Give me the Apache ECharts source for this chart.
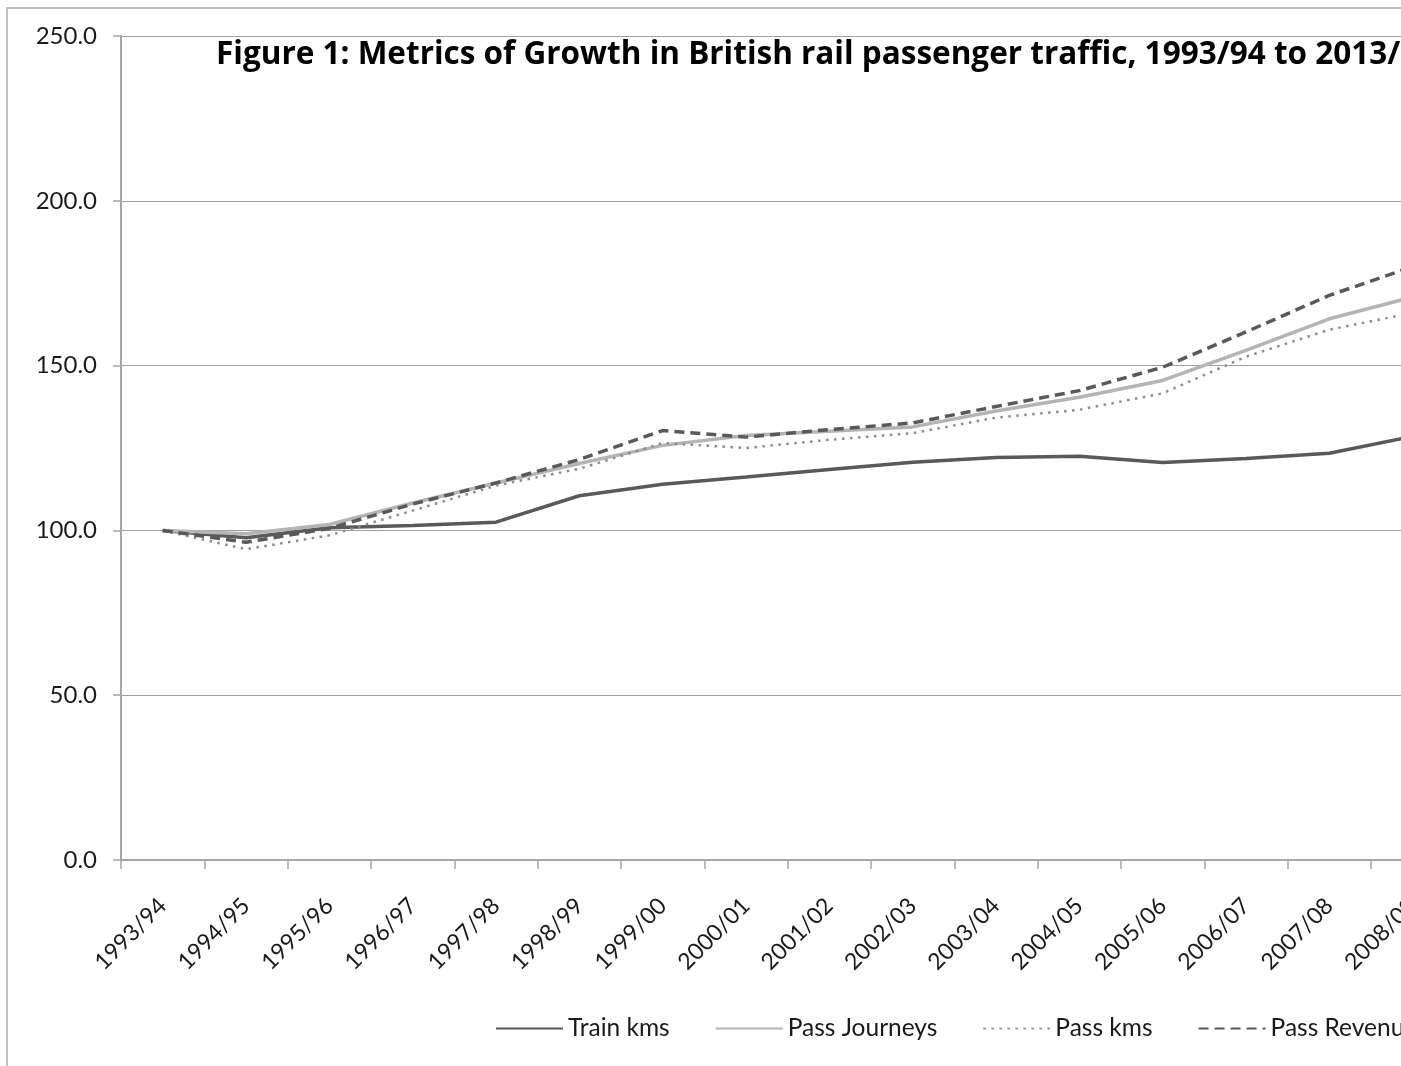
<!DOCTYPE html>
<html>
<head>
<meta charset="utf-8">
<script src="https://cdn.jsdelivr.net/npm/echarts@6/dist/echarts.min.js"></script>
<style>
  html, body { margin: 0; padding: 0; background: #fff; overflow: hidden; }
  #chart { position: absolute; left: 0; top: 0; width: 1401px; height: 1066px; }
  #frame { position: absolute; left: 6px; top: 7px; width: 1500px; height: 1200px;
           border-left: 2px solid #bfbfbf; border-top: 2px solid #bfbfbf; pointer-events: none; box-sizing: border-box; }
</style>
</head>
<body>
<div id="chart"></div>
<div id="frame"></div>
<script>
const titleText = 'Figure 1: Metrics of Growth in British rail passenger traffic, 1993/94 to 2013/14';
const categories = ['1993/94','1994/95','1995/96','1996/97','1997/98','1998/99','1999/00','2000/01',
                    '2001/02','2002/03','2003/04','2004/05','2005/06','2006/07','2007/08','2008/09'];
const trainKms     = [100, 97.8, 100.8, 101.5, 102.5, 110.5, 114.0, 116.2, 118.5, 120.7, 122.1, 122.5, 120.6, 121.8, 123.4, 128.5];
const passJourneys = [100, 99.0, 101.8, 108.3, 114.4, 120.3, 125.8, 128.8, 130.1, 131.4, 136.2, 140.4, 145.5, 154.6, 164.2, 170.8];
const passKms      = [100, 94.3, 98.5, 106.0, 113.6, 118.7, 126.5, 125.0, 127.5, 129.5, 134.2, 136.6, 141.6, 152.7, 160.9, 166.0];
const passRevenue  = [100, 96.4, 100.6, 108.0, 114.4, 121.5, 130.3, 128.3, 130.6, 132.6, 137.6, 142.4, 149.5, 160.2, 171.3, 180.0];
const seriesNames = ['Train kms', 'Pass Journeys', 'Pass kms', 'Pass Revenue'];
const yMin = 0, yMax = 250, yStep = 50;

const FONT = 'Lato';
const chart = echarts.init(document.getElementById('chart'), null, { renderer: 'canvas' });
const bandCount = categories.length;
const bandW = 83.33;

chart.setOption({
  animation: false,
  backgroundColor: '#ffffff',
  title: {
    text: titleText,
    left: 211, top: 34,
    textStyle: { fontFamily: 'Open Sans', fontWeight: 'bold', fontSize: 31.5, color: '#000' }
  },
  legend: {
    data: seriesNames,
    left: 490, top: 1011, width: 1600,
    itemWidth: 67, itemHeight: 14, itemGap: 45,
    itemStyle: { opacity: 0 },
    textStyle: { fontFamily: FONT, fontSize: 24.5, color: '#1a1a1a' }
  },
  grid: {
    left: 121, top: 36, height: 824, width: bandW * bandCount,
    containLabel: false, outerBoundsMode: 'none'
  },
  xAxis: {
    type: 'category',
    data: categories,
    boundaryGap: true,
    axisLine: { show: true, lineStyle: { color: '#a6a6a6', width: 2 } },
    axisTick: { show: true, length: 9, interval: 0, alignWithLabel: false, lineStyle: { color: '#a6a6a6', width: 1.5 } },
    axisLabel: { interval: 0, rotate: 45, margin: 42, fontFamily: FONT, fontSize: 23, color: '#1a1a1a' },
    splitLine: { show: false }
  },
  yAxis: {
    type: 'value',
    min: yMin, max: yMax, interval: yStep,
    axisLine: { show: true, lineStyle: { color: '#a6a6a6', width: 2 } },
    axisTick: { show: true, length: 8, lineStyle: { color: '#a6a6a6', width: 1.5 } },
    axisLabel: { formatter: v => v.toFixed(1), margin: 24, fontFamily: FONT, fontSize: 24, color: '#1a1a1a' },
    splitLine: { show: true, lineStyle: { color: '#a0a0a0', width: 1.2 } }
  },
  series: [
    { name: seriesNames[0], type: 'line', data: trainKms, symbol: 'none',
      itemStyle: { color: '#595959' }, lineStyle: { color: '#595959', width: 3.5 } },
    { name: seriesNames[1], type: 'line', data: passJourneys, symbol: 'none',
      itemStyle: { color: '#b4b4b4' }, lineStyle: { color: '#b4b4b4', width: 3.5 } },
    { name: seriesNames[2], type: 'line', data: passKms, symbol: 'none',
      itemStyle: { color: '#8c8c8c' }, lineStyle: { color: '#8c8c8c', width: 2.5, type: [2.5, 5.5] } },
    { name: seriesNames[3], type: 'line', data: passRevenue, symbol: 'none',
      itemStyle: { color: '#595959' }, lineStyle: { color: '#595959', width: 3.5, type: [10, 6] } }
  ]
});
</script>
</body>
</html>
